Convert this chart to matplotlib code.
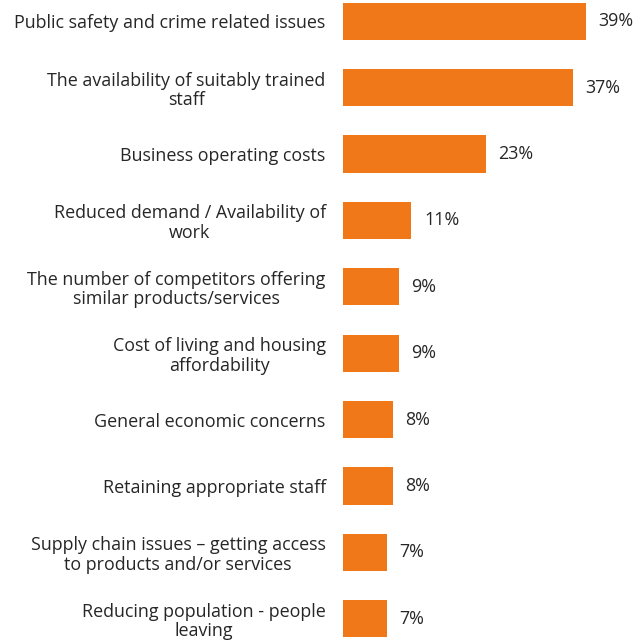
import matplotlib.pyplot as plt

plt.rcParams['font.family'] = ['Open Sans', 'DejaVu Sans']

issues = [
    "Public safety and crime related issues",
    "The availability of suitably trained\nstaff",
    "Business operating costs",
    "Reduced demand / Availability of\nwork",
    "The number of competitors offering\nsimilar products/services",
    "Cost of living and housing\naffordability",
    "General economic concerns",
    "Retaining appropriate staff",
    "Supply chain issues \u2013 getting access\nto products and/or services",
    "Reducing population - people\nleaving",
]
shares = [39, 37, 23, 11, 9, 9, 8, 8, 7, 7]

BAR_COLOR = "#F07819"
TEXT_COLOR = "#262626"
FS = 12.9

fig = plt.figure(figsize=(6.36, 6.4), dpi=100)
ax = fig.add_axes([343 / 636, -12 / 640, 293 / 636, 664 / 640])

ypos = list(range(len(issues)))
ax.barh(ypos, shares, height=0.56, color=BAR_COLOR)
ax.set_xlim(0, 47.1)
ax.set_ylim(len(issues) - 0.5, -0.5)

for y, v in zip(ypos, shares):
    ax.annotate(f"{v}%", (v, y), xytext=(9, 0), textcoords="offset points",
                ha="left", va="center", fontsize=FS, color=TEXT_COLOR)

ax.set_yticks(ypos)
ax.set_yticklabels(issues, fontsize=FS, color=TEXT_COLOR, ha="right",
                   multialignment="center", linespacing=1.12)
ax.tick_params(axis="y", length=0, pad=12.5)
ax.set_xticks([])
for s in ax.spines.values():
    s.set_visible(False)

fig.savefig("out.png", dpi=100)
